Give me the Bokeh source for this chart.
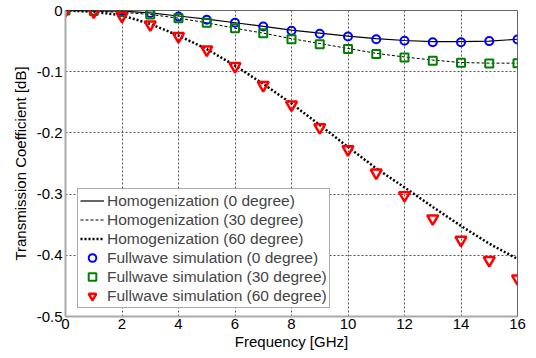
from bokeh.plotting import figure
from bokeh.models import Legend, LegendItem, FixedTicker, CustomJSTickFormatter
from bokeh.embed import file_html
from bokeh.resources import INLINE

freq = list(range(0, 17))

# Homogenization lines
homog_0 = [0, -0.0005, -0.001, -0.004, -0.009, -0.014, -0.02, -0.026, -0.032, -0.037,
           -0.042, -0.046, -0.049, -0.051, -0.051, -0.05, -0.047]
homog_30 = [0, -0.001, -0.003, -0.0065, -0.0125, -0.02, -0.029, -0.037, -0.046, -0.054,
            -0.062, -0.07, -0.076, -0.081, -0.085, -0.086, -0.086]
homog_60 = [0, -0.002, -0.008, -0.022, -0.041, -0.063, -0.09, -0.12, -0.152, -0.187,
            -0.223, -0.258, -0.289, -0.321, -0.352, -0.381, -0.406]

# Fullwave simulation markers
full_0 = [0, -0.0005, -0.001, -0.004, -0.01, -0.015, -0.02, -0.026, -0.033, -0.038,
          -0.0425, -0.047, -0.0495, -0.052, -0.052, -0.05, -0.0475]
full_30 = [0, -0.001, -0.003, -0.0065, -0.0125, -0.02, -0.029, -0.037, -0.047, -0.055,
           -0.063, -0.071, -0.077, -0.082, -0.0855, -0.0866, -0.086]
full_60 = [0, -0.002, -0.009, -0.023, -0.042, -0.064, -0.091, -0.122, -0.154, -0.191,
           -0.227, -0.265, -0.302, -0.340, -0.375, -0.408, -0.438]

x_ticks = [0, 2, 4, 6, 8, 10, 12, 14, 16]
y_ticks = [0, -0.1, -0.2, -0.3, -0.4, -0.5]

labels = ["Homogenization (0 degree)", "Homogenization (30 degree)",
          "Homogenization (60 degree)", "Fullwave simulation (0 degree)",
          "Fullwave simulation (30 degree)", "Fullwave simulation (60 degree)"]

FONT = "Liberation Sans"

p = figure(width=536, height=358, x_range=(0, 16), y_range=(-0.5, 0),
           output_backend="svg", toolbar_location=None,
           min_border_left=65, min_border_right=19, min_border_top=10, min_border_bottom=42)
p.background_fill_color = "white"
p.border_fill_color = "white"
p.outline_line_color = "#666666"
p.outline_line_width = 1

r1 = p.line(freq, homog_0, line_color="black", line_width=1.2)
r2 = p.line(freq, homog_30, line_color="black", line_width=1, line_dash="3 2")
r3 = p.line(freq, homog_60, line_color="black", line_width=2.5, line_dash="2 2")
r4 = p.scatter(freq, full_0, marker="circle", size=8, line_color="blue", line_width=2,
               fill_color=None)
r5 = p.scatter(freq, full_30, marker="square", size=8, line_color="green", line_width=2,
               fill_color=None)
r6 = p.scatter(freq, full_60, marker="inverted_triangle", size=11, line_color="red",
               line_width=2.5, fill_color=None)

for ax in (p.xaxis[0], p.yaxis[0]):
    ax.axis_line_color = "#aaaaaa"
    ax.axis_line_width = 2
    ax.major_tick_line_color = None
    ax.minor_tick_line_color = None
    ax.major_tick_out = 0
    ax.major_tick_in = 0
    ax.major_label_text_font = FONT
    ax.major_label_text_font_size = "15px"
    ax.major_label_text_color = "black"
    ax.axis_label_text_font = FONT
    ax.axis_label_text_font_size = "15px"
    ax.axis_label_text_font_style = "normal"
    ax.axis_label_text_color = "black"

p.xaxis.ticker = FixedTicker(ticks=x_ticks)
p.yaxis.ticker = FixedTicker(ticks=y_ticks)
p.yaxis.formatter = CustomJSTickFormatter(code="return tick == 0 ? '0' : tick.toFixed(1);")
p.xaxis.major_label_standoff = 2
p.yaxis.major_label_standoff = 3
p.xaxis.axis_label = "Frequency [GHz]"
p.yaxis.axis_label = "Transmission Coefficient [dB]"
p.xaxis.axis_label_standoff = 1
p.yaxis.axis_label_standoff = 5

p.grid.grid_line_color = "#555555"
p.grid.grid_line_dash = "2 2"
p.grid.grid_line_width = 1

items = [LegendItem(label=l, renderers=[r]) for l, r in zip(labels, [r1, r2, r3, r4, r5, r6])]
legend = Legend(items=items, location=(12, 8))
legend.label_text_font = FONT
legend.label_text_font_size = "15.5px"
legend.label_height = 19
legend.glyph_height = 19
legend.glyph_width = 24
legend.label_standoff = 3
legend.spacing = 0
legend.padding = 2
legend.margin = 0
legend.border_line_color = "#555555"
legend.border_line_width = 1
legend.background_fill_color = "white"
legend.background_fill_alpha = 1
p.add_layout(legend, "center")

open("out.html", "w").write(file_html(p, INLINE))
